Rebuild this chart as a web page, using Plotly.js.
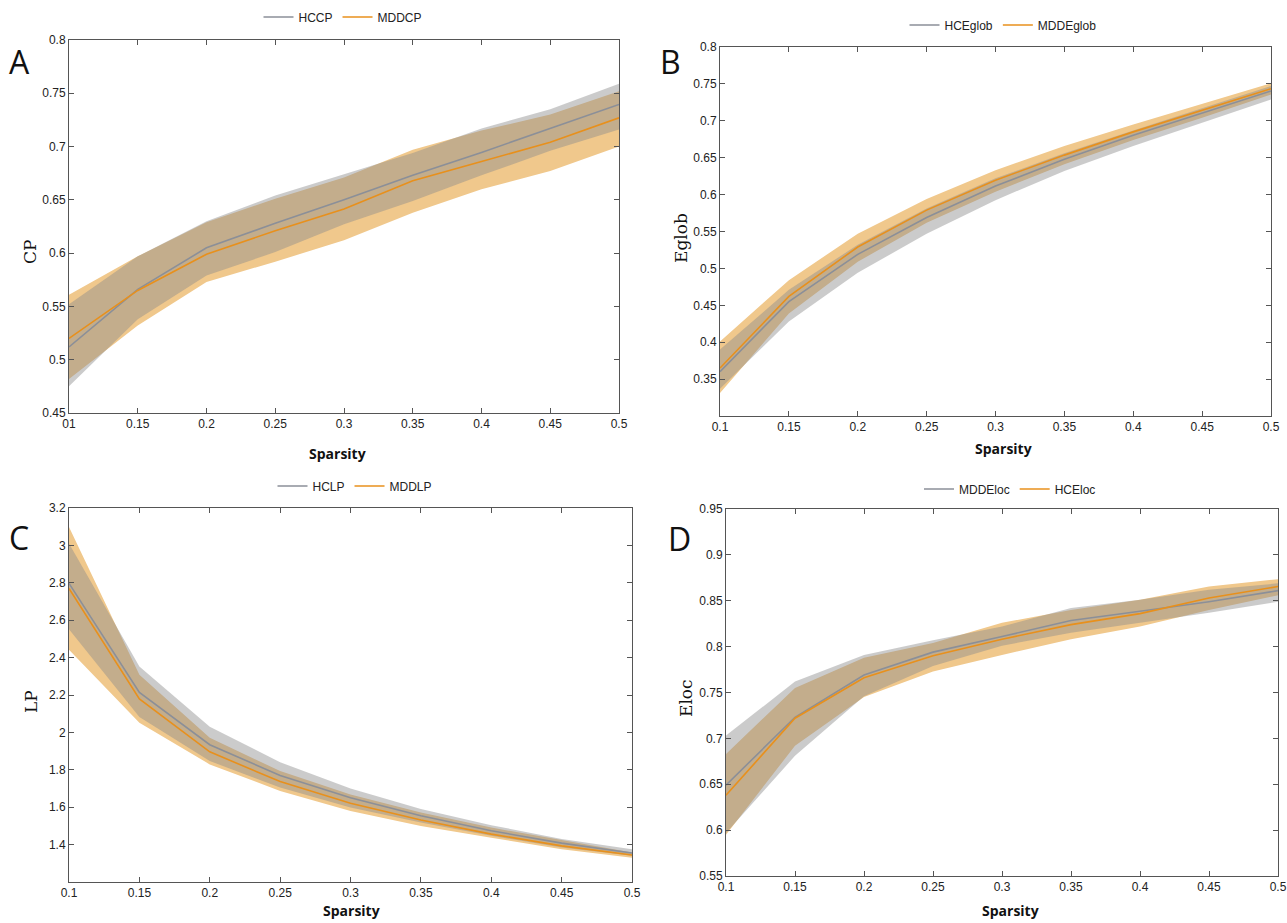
<!DOCTYPE html>
<html>
<head>
<meta charset="utf-8">
<script src="https://cdn.plot.ly/plotly-3.0.1.min.js"></script>
<style>html,body{margin:0;padding:0;background:#fff;}#chart{width:1287px;height:923px;}</style>
</head>
<body>
<div id="chart"></div>
<script>
// ---- data ----
const sparsity = [0.1, 0.15, 0.2, 0.25, 0.3, 0.35, 0.4, 0.45, 0.5];
const xTickLabelsA = ["01", "0.15", "0.2", "0.25", "0.3", "0.35", "0.4", "0.45", "0.5"];
const xTickLabels = ["0.1", "0.15", "0.2", "0.25", "0.3", "0.35", "0.4", "0.45", "0.5"];

// Panel A: CP
const hcCP     = [0.512, 0.566, 0.605, 0.628, 0.650, 0.673, 0.6945, 0.717, 0.7395];
const hcCPHi   = [0.552, 0.597, 0.630, 0.654, 0.674, 0.694, 0.717, 0.735, 0.759];
const hcCPLo   = [0.475, 0.538, 0.579, 0.601, 0.627, 0.649, 0.673, 0.696, 0.716];
const mddCP    = [0.520, 0.565, 0.599, 0.621, 0.6415, 0.668, 0.686, 0.704, 0.727];
const mddCPHi  = [0.561, 0.597, 0.629, 0.651, 0.671, 0.697, 0.715, 0.730, 0.752];
const mddCPLo  = [0.482, 0.532, 0.573, 0.592, 0.612, 0.638, 0.660, 0.677, 0.700];

// Panel B: Eglob
const hcEg     = [0.360, 0.455, 0.519, 0.569, 0.6115, 0.648, 0.6805, 0.711, 0.7405];
const hcEgHi   = [0.390, 0.471, 0.532, 0.581, 0.622, 0.656, 0.687, 0.717, 0.747];
const hcEgLo   = [0.337, 0.428, 0.494, 0.547, 0.5925, 0.632, 0.666, 0.698, 0.729];
const mddEg    = [0.365, 0.462, 0.529, 0.579, 0.6195, 0.6535, 0.685, 0.714, 0.7435];
const mddEgHi  = [0.401, 0.484, 0.547, 0.594, 0.633, 0.666, 0.695, 0.723, 0.751];
const mddEgLo  = [0.331, 0.439, 0.509, 0.562, 0.604, 0.641, 0.674, 0.704, 0.7355];

// Panel C: LP
const hcLP     = [2.797, 2.214, 1.934, 1.770, 1.651, 1.554, 1.474, 1.408, 1.355];
const hcLPHi   = [3.010, 2.352, 2.030, 1.841, 1.700, 1.590, 1.504, 1.430, 1.375];
const hcLPLo   = [2.552, 2.083, 1.847, 1.705, 1.598, 1.518, 1.447, 1.385, 1.340];
const mddLP    = [2.770, 2.179, 1.896, 1.737, 1.621, 1.532, 1.456, 1.393, 1.344];
const mddLPHi  = [3.099, 2.308, 1.971, 1.793, 1.668, 1.571, 1.491, 1.425, 1.358];
const mddLPLo  = [2.442, 2.051, 1.829, 1.687, 1.580, 1.500, 1.437, 1.375, 1.330];

// Panel D: Eloc (gray = MDDEloc, orange = HCEloc, as labelled)
const mddEloc   = [0.649, 0.723, 0.769, 0.794, 0.811, 0.8285, 0.8385, 0.849, 0.861];
const mddElocHi = [0.703, 0.762, 0.791, 0.807, 0.822, 0.842, 0.851, 0.862, 0.869];
const mddElocLo = [0.597, 0.681, 0.746, 0.779, 0.801, 0.815, 0.826, 0.837, 0.849];
const hcEloc    = [0.638, 0.722, 0.766, 0.790, 0.808, 0.824, 0.836, 0.853, 0.8655];
const hcElocHi  = [0.683, 0.755, 0.788, 0.804, 0.826, 0.840, 0.851, 0.8655, 0.8735];
const hcElocLo  = [0.595, 0.692, 0.745, 0.773, 0.791, 0.808, 0.822, 0.840, 0.856];

// ---- styles ----
const GRAY_LINE = '#8b8f98';
const ORANGE_LINE = '#e8901c';
const GRAY_FILL = 'rgba(140,140,140,0.45)';
const ORANGE_FILL = 'rgba(240,200,140,1)';
const W = 1287, H = 923;

function band(x, hi, lo, color, xa, ya) {
  return {
    x: x.concat(x.slice().reverse()),
    y: hi.concat(lo.slice().reverse()),
    type: 'scatter', mode: 'lines', fill: 'toself', fillcolor: color,
    line: {width: 0, color: 'rgba(0,0,0,0)'}, hoverinfo: 'skip', showlegend: false,
    xaxis: xa, yaxis: ya
  };
}
function line(x, y, color, name, xa, ya, leg) {
  return {x: x, y: y, type: 'scatter', mode: 'lines', name: name,
    line: {color: color, width: 1.6}, xaxis: xa, yaxis: ya, legend: leg};
}

const traces = [
  // A
  band(sparsity, mddCPHi, mddCPLo, ORANGE_FILL, 'x', 'y'),
  band(sparsity, hcCPHi, hcCPLo, GRAY_FILL, 'x', 'y'),
  line(sparsity, hcCP, GRAY_LINE, 'HCCP', 'x', 'y', 'legend'),
  line(sparsity, mddCP, ORANGE_LINE, 'MDDCP', 'x', 'y', 'legend'),
  // B
  band(sparsity, mddEgHi, mddEgLo, ORANGE_FILL, 'x2', 'y2'),
  band(sparsity, hcEgHi, hcEgLo, GRAY_FILL, 'x2', 'y2'),
  line(sparsity, hcEg, GRAY_LINE, 'HCEglob', 'x2', 'y2', 'legend2'),
  line(sparsity, mddEg, ORANGE_LINE, 'MDDEglob', 'x2', 'y2', 'legend2'),
  // C
  band(sparsity, mddLPHi, mddLPLo, ORANGE_FILL, 'x3', 'y3'),
  band(sparsity, hcLPHi, hcLPLo, GRAY_FILL, 'x3', 'y3'),
  line(sparsity, hcLP, GRAY_LINE, 'HCLP', 'x3', 'y3', 'legend3'),
  line(sparsity, mddLP, ORANGE_LINE, 'MDDLP', 'x3', 'y3', 'legend3'),
  // D
  band(sparsity, hcElocHi, hcElocLo, ORANGE_FILL, 'x4', 'y4'),
  band(sparsity, mddElocHi, mddElocLo, GRAY_FILL, 'x4', 'y4'),
  line(sparsity, mddEloc, GRAY_LINE, 'MDDEloc', 'x4', 'y4', 'legend4'),
  line(sparsity, hcEloc, ORANGE_LINE, 'HCEloc', 'x4', 'y4', 'legend4')
];

const tickFont = {family: 'Liberation Sans, Arial, sans-serif', size: 12, color: '#222'};
function px(a, b) { return [a / W, b / W]; }
function py(top, bottom) { return [1 - bottom / H, 1 - top / H]; }
function xAxis(dom, anchor, labels) {
  return {domain: dom, anchor: anchor, range: [0.1, 0.5], tickvals: sparsity, ticktext: labels,
    showline: true, mirror: 'ticks', linecolor: '#555', linewidth: 1, ticks: 'inside', ticklen: 5,
    tickcolor: '#555', showgrid: false, zeroline: false, tickfont: tickFont};
}
function yAxis(dom, anchor, range, vals) {
  return {domain: dom, anchor: anchor, range: range, tickvals: vals,
    showline: true, mirror: 'ticks', linecolor: '#555', linewidth: 1, ticks: 'inside', ticklen: 5,
    tickcolor: '#555', showgrid: false, zeroline: false, tickfont: tickFont};
}

const ticksA = [0.45, 0.5, 0.55, 0.6, 0.65, 0.7, 0.75, 0.8];
const ticksB = [0.35, 0.4, 0.45, 0.5, 0.55, 0.6, 0.65, 0.7, 0.75, 0.8];
const ticksC = [1.4, 1.6, 1.8, 2, 2.2, 2.4, 2.6, 2.8, 3, 3.2];
const ticksD = [0.55, 0.6, 0.65, 0.7, 0.75, 0.8, 0.85, 0.9, 0.95];

const legFont = {family: 'Liberation Sans, Arial, sans-serif', size: 12, color: '#222'};
function leg(xc, yc) {
  return {orientation: 'h', x: xc / W, xanchor: 'center', y: 1 - yc / H, yanchor: 'middle',
    font: legFont, bgcolor: 'rgba(0,0,0,0)', itemwidth: 30, tracegroupgap: 0};
}

const letterFont = {family: 'Open Sans, Noto Sans, sans-serif', size: 32, color: '#111'};
const yTitleFont = {family: 'DejaVu Serif, Liberation Serif, serif', size: 17, color: '#111'};
const xTitleFont = {family: 'Open Sans, Noto Sans, sans-serif', size: 14, color: '#111', weight: 'bold'};
function ann(text, x, y, font, angle) {
  return {text: text, x: x / W, y: 1 - y / H, xref: 'paper', yref: 'paper', showarrow: false,
    xanchor: 'center', yanchor: 'middle', font: font, textangle: angle || 0};
}

const layout = {
  width: W, height: H, margin: {l: 0, r: 0, t: 0, b: 0},
  paper_bgcolor: '#fff', plot_bgcolor: '#fff', showlegend: true,
  xaxis: xAxis(px(69, 619), 'y', xTickLabelsA),
  yaxis: yAxis(py(40, 413), 'x', [0.45, 0.8], ticksA),
  xaxis2: xAxis(px(720, 1271), 'y2', xTickLabels),
  yaxis2: yAxis(py(47, 416), 'x2', [0.3, 0.8], ticksB),
  xaxis3: xAxis(px(69, 632), 'y3', xTickLabels),
  yaxis3: yAxis(py(508, 882), 'x3', [1.2, 3.2], ticksC),
  xaxis4: xAxis(px(726, 1278), 'y4', xTickLabels),
  yaxis4: yAxis(py(509, 876), 'x4', [0.55, 0.95], ticksD),
  legend: leg(343, 17),
  legend2: leg(1003, 25),
  legend3: leg(355, 486),
  legend4: leg(1010, 489),
  annotations: [
    ann('A', 19, 62, letterFont), ann('B', 670, 62, letterFont),
    ann('C', 19, 537, letterFont), ann('D', 679, 538, letterFont),
    ann('CP', 30, 252, yTitleFont, -90), ann('Eglob', 681, 238, yTitleFont, -90),
    ann('LP', 31, 702, yTitleFont, -90), ann('Eloc', 686, 698, yTitleFont, -90),
    ann('Sparsity', 337, 453, xTitleFont), ann('Sparsity', 1003, 449, xTitleFont),
    ann('Sparsity', 351, 910, xTitleFont), ann('Sparsity', 1010, 910, xTitleFont)
  ]
};

Plotly.newPlot('chart', traces, layout, {staticPlot: true, displayModeBar: false});
</script>
</body>
</html>
